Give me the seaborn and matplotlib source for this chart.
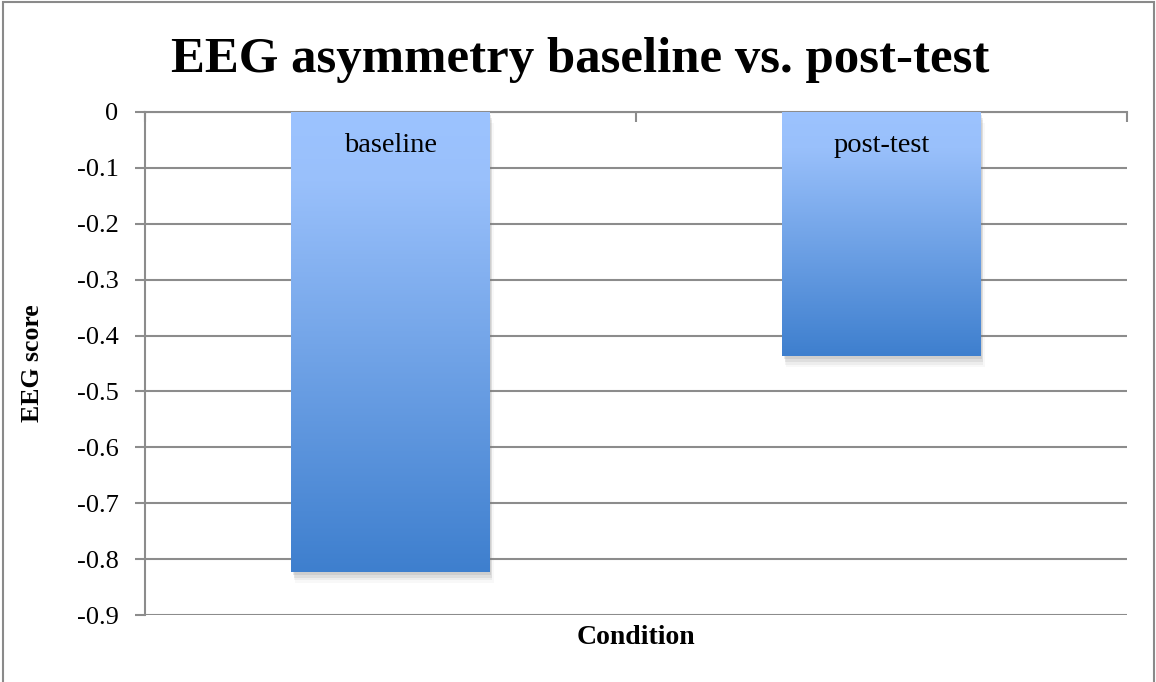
import numpy as np
import matplotlib
matplotlib.use("Agg")
import matplotlib.pyplot as plt
import matplotlib.patheffects as pe
from matplotlib.colors import LinearSegmentedColormap
from matplotlib.patches import Rectangle
import pandas as pd
import seaborn as sns

# data
conditions = ["baseline", "post-test"]
eeg_scores = [-0.823, -0.437]
y_ticks = [0, -0.1, -0.2, -0.3, -0.4, -0.5, -0.6, -0.7, -0.8, -0.9]

sns.set_theme(style="white")
plt.rcParams["font.family"] = ["Liberation Serif", "DejaVu Serif"]
plt.rcParams["text.color"] = "black"
plt.rcParams["axes.labelcolor"] = "black"
plt.rcParams["ytick.labelcolor"] = "black"

GRID = "#8c8c8c"
grad_cmap = LinearSegmentedColormap.from_list(
    "xl_blue", [(0.0, "#9cc3ff"), (0.15, "#99c0fb"), (1.0, "#3e7fce")])

df = pd.DataFrame({"Condition": conditions, "EEG score": eeg_scores})

fig = plt.figure(figsize=(11.56, 6.82), dpi=100)
ax = fig.add_axes([145 / 1156, 1 - 615 / 682, (1127 - 145) / 1156, (615 - 112) / 682])

sns.barplot(data=df, x="Condition", y="EEG score", ax=ax, width=0.404,
            color="#6a9fe6", saturation=1, linewidth=0, zorder=3)

# blurred-looking drop shadow built from a few faint layers
shadow = [pe.SimplePatchShadow(offset=(dx, -dy), shadow_rgbFace="#7a7a7a", alpha=a)
          for dx, dy, a in [(1, 2, 0.16), (2, 4, 0.12), (2, 6, 0.08), (3, 8, 0.05)]]

grad = np.linspace(0, 1, 256).reshape(-1, 1)
for bar in ax.patches:
    bar.set_path_effects(shadow + [pe.Normal()])
    x0, w = bar.get_x(), bar.get_width()
    im = ax.imshow(grad, cmap=grad_cmap, aspect="auto", zorder=4,
                   extent=[x0, x0 + w, bar.get_height(), 0], origin="upper")
    im.set_clip_path(bar)

ax.set_xlim(-0.5, 1.5)
ax.set_ylim(-0.9, 0)

# in-bar category labels
for i, name in enumerate(conditions):
    ax.text(i, -0.072, name, ha="center", va="baseline", fontsize=20.5, color="black", zorder=5)

# axes styling (Excel look)
ax.set_yticks(y_ticks)
ax.set_yticklabels(["0" if v == 0 else f"{v:.1f}" for v in y_ticks], fontsize=19)
ax.yaxis.grid(True, color=GRID, linewidth=1.5, zorder=0)
ax.tick_params(axis="y", length=7, width=1.5, color=GRID, direction="out", pad=12, left=True)

ax.xaxis.tick_top()
ax.set_xticks([-0.5, 0.5, 1.5])
ax.set_xticklabels([])
ax.tick_params(axis="x", length=7, width=1.5, color=GRID, direction="in", top=True, bottom=False)

for side in ["right", "bottom"]:
    ax.spines[side].set_visible(False)
for side in ["left", "top"]:
    ax.spines[side].set_color(GRID)
    ax.spines[side].set_linewidth(1.5)

ax.set_xlabel("Condition", fontsize=20, fontweight="bold")
ax.xaxis.set_label_position("bottom")
ax.xaxis.set_label_coords(0.5, -0.02)
ax.set_ylabel("EEG score", fontsize=18.5, fontweight="bold")
ax.yaxis.set_label_coords(-0.1025, 0.5)

fig.text(0.502, 1 - 72 / 682, "EEG asymmetry baseline vs. post-test",
         ha="center", va="baseline", fontsize=36.6, fontweight="bold")

# chart frame
fig.patches.append(Rectangle((3 / 1156, -0.05), (1154 - 3) / 1156, 1.05 - 2 / 682,
                             transform=fig.transFigure, fill=False,
                             edgecolor="#8a8a8a", linewidth=1.5))

fig.savefig("out.png", dpi=100)
